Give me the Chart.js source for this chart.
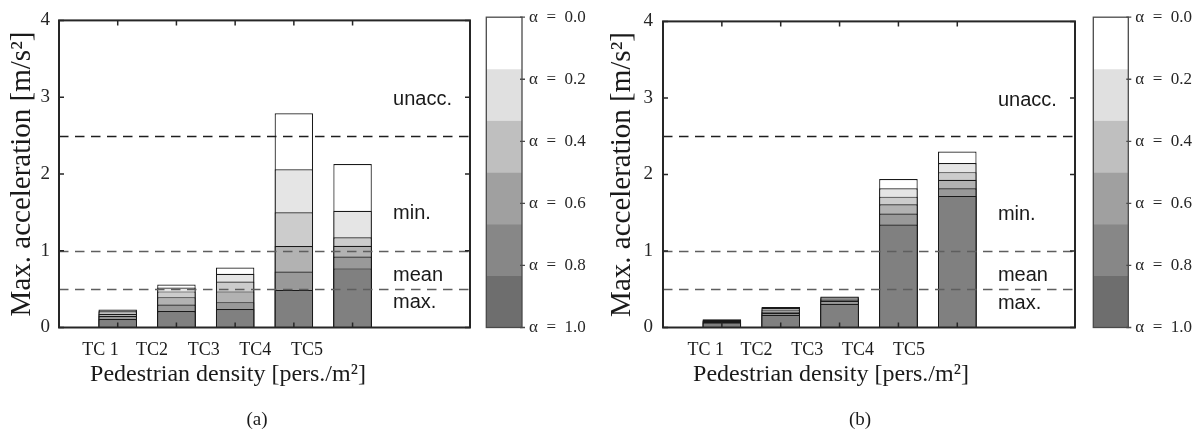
<!DOCTYPE html>
<html lang="en">
<head>
<meta charset="UTF-8">
<title>Max. acceleration per test case</title>
<script src="https://cdn.jsdelivr.net/npm/chart.js"></script>
<style>
  body { margin: 0; background: #fff; }
  #fig { position: relative; width: 1204px; height: 441px; overflow: hidden; background: #fff; }
  #fig canvas { position: absolute; top: 0; }
  .xt, .cap { position: absolute; font-family: "Liberation Serif", "Times New Roman", serif; color: #1a1a1a;
              transform: translateX(-50%); white-space: nowrap; }
  .xt { font-size: 24px; line-height: 28px; }
  .cap { font-size: 19px; line-height: 22px; }
</style>
</head>
<body>
<div id="fig">
  <canvas id="accA" width="480" height="441" style="left:0px"></canvas>
  <canvas id="barA" width="120" height="441" style="left:480px"></canvas>
  <canvas id="accB" width="480" height="441" style="left:600px"></canvas>
  <canvas id="barB" width="124" height="441" style="left:1080px"></canvas>
  <div class="xt" style="left:228px; top:359px">Pedestrian density [pers./m²]</div>
  <div class="cap" style="left:257px; top:408px">(a)</div>
  <div class="xt" style="left:831px; top:359px">Pedestrian density [pers./m²]</div>
  <div class="cap" style="left:860px; top:408px">(b)</div>
</div>

<script>
// test cases
const categories = ['TC 1', 'TC2', 'TC3', 'TC4', 'TC5'];
const alphaNames = ['α = 1.0', 'α = 0.8', 'α = 0.6', 'α = 0.4', 'α = 0.2', 'α = 0.0'];

// (a) max. acceleration [m/s²], top of each alpha level (α = 1.0 at the bottom)
const accA_10 = [0.11, 0.215, 0.24, 0.49, 0.77];
const accA_08 = [0.15, 0.30, 0.33, 0.73, 0.925];
const accA_06 = [0.18, 0.395, 0.47, 1.06, 1.065];
const accA_04 = [0.21, 0.47, 0.60, 1.50, 1.175];
const accA_02 = [0.22, 0.52, 0.70, 2.06, 1.52];
const accA_00 = [0.235, 0.56, 0.78, 2.79, 2.13];

// (b)
const accB_10 = [0.065, 0.165, 0.31, 1.345, 1.72];
const accB_08 = [0.075, 0.19, 0.35, 1.49, 1.82];
const accB_06 = [0.085, 0.21, 0.365, 1.61, 1.93];
const accB_04 = [0.093, 0.235, 0.38, 1.71, 2.03];
const accB_02 = [0.10, 0.255, 0.395, 1.82, 2.15];
const accB_00 = [0.108, 0.267, 0.404, 1.94, 2.30];

// comfort limits and their labels
const limitValues = [2.5, 1.0, 0.5];
const zoneNames = ['unacc.', 'min.', 'mean', 'max.'];
const zoneLevels = [2.97, 1.48, 0.68, 0.32];

// colorbar
const alphaTicks = [0, 0.2, 0.4, 0.6, 0.8, 1.0];
const cbarEdges = [0, 0.167, 0.333, 0.5, 0.667, 0.833, 1];

// styles
const barFills = ['#808080', '#999999', '#b2b2b2', '#cccccc', '#e5e5e5', '#ffffff'];
const cbarFills = ['#ffffff', '#e0e0e0', '#bfbfbf', '#a0a0a0', '#878787', '#6e6e6e'];
const limitColors = ['#1e1e1e', '#5e5e5e', '#5e5e5e'];
const serif = '"Liberation Serif", "Times New Roman", serif';
const ink = '#262626';

// frame, inner ticks, dashed limits and zone labels
const boxPlugin = {
  id: 'box',
  afterDatasetsDraw(chart, args, opts) {
    const {ctx, chartArea: a, scales: {x, y}} = chart;
    ctx.save();
    ctx.lineWidth = 1.3;
    ctx.setLineDash([9.5, 6.5]);
    limitValues.forEach((v, i) => {
      const py = Math.round(y.getPixelForValue(v)) + 0.5;
      ctx.strokeStyle = limitColors[i];
      ctx.beginPath(); ctx.moveTo(a.left, py); ctx.lineTo(a.right, py); ctx.stroke();
    });
    ctx.setLineDash([]);
    ctx.fillStyle = '#1a1a1a';
    ctx.font = '20px "Liberation Sans", Arial, sans-serif';
    ctx.textAlign = 'left';
    ctx.textBaseline = 'middle';
    zoneNames.forEach((t, i) => ctx.fillText(t, x.getPixelForValue(opts.zoneX), y.getPixelForValue(zoneLevels[i])));

    ctx.strokeStyle = ink;
    ctx.lineWidth = 1.5;
    ctx.beginPath();
    y.ticks.forEach(t => {
      const py = y.getPixelForValue(t.value);
      ctx.moveTo(a.left, py); ctx.lineTo(a.left + 5, py);
      ctx.moveTo(a.right, py); ctx.lineTo(a.right - 5, py);
    });
    categories.forEach((c, i) => {
      const px = x.getPixelForValue(i + 1);
      ctx.moveTo(px, a.top); ctx.lineTo(px, a.top + 5);
      ctx.moveTo(px, a.bottom); ctx.lineTo(px, a.bottom - 5);
    });
    ctx.stroke();
    ctx.lineWidth = 2;
    ctx.strokeRect(a.left, a.top, a.width, a.height);
    ctx.restore();
  }
};

const cbarPlugin = {
  id: 'cbar',
  afterDatasetsDraw(chart) {
    const {ctx, chartArea: a, scales: {y}} = chart;
    ctx.save();
    ctx.strokeStyle = '#4a4a4a';
    ctx.lineWidth = 1.3;
    ctx.strokeRect(a.left, a.top, a.width, a.height);
    ctx.beginPath();
    alphaTicks.forEach(v => {
      const py = y.getPixelForValue(v);
      ctx.moveTo(a.right - 2, py); ctx.lineTo(a.right + 3, py);
    });
    ctx.stroke();
    ctx.restore();
  }
};

function makePanel(id, cbId, series, p) {
  new Chart(document.getElementById(id), {
    type: 'bar',
    data: {
      datasets: series.map((vals, k) => ({
        label: alphaNames[k],
        xAxisID: 'x',
        data: vals.map((v, i) => ({x: i + 1, y: v})),
        backgroundColor: barFills[k],
        borderColor: '#1a1a1a',
        borderWidth: 1.2,
        grouped: false,
        categoryPercentage: 1,
        barPercentage: 0.655
      }))
    },
    options: {
      responsive: false,
      animation: false,
      layout: {padding: {left: 0, top: 16, right: p.padRight, bottom: 0}},
      plugins: {legend: {display: false}, tooltip: {enabled: false}, box: {zoneX: 5.69}},
      scales: {
        x: {type: 'linear', min: 0, max: 7, offset: false, display: false, ticks: {stepSize: 1}},
        xl: {
          type: 'linear', position: 'bottom', min: p.lblMin, max: p.lblMax, offset: false,
          grid: {display: false, drawTicks: false, offset: false}, border: {display: false},
          afterBuildTicks: s => { s.ticks = categories.map((c, i) => ({value: i + 1})); },
          ticks: {autoSkip: false, maxRotation: 0, padding: 12, color: '#1a1a1a',
                  font: {family: serif, size: 18}, callback: (v, i) => categories[i]},
          afterFit: s => { s.height = 113.5; }
        },
        y: {
          min: 0, max: 4,
          grid: {display: false, drawTicks: false}, border: {display: false},
          ticks: {stepSize: 1, padding: p.tickPad, color: ink, font: {family: serif, size: 19}},
          title: {display: true, text: 'Max. acceleration [m/s²]', color: '#1a1a1a',
                  font: {family: serif, size: 29}, padding: {top: 5, bottom: 0}},
          afterFit: s => { s.width = p.axisW; }
        }
      }
    },
    plugins: [boxPlugin]
  });

  new Chart(document.getElementById(cbId), {
    type: 'bar',
    data: {
      labels: ['α'],
      datasets: cbarFills.map((c, k) => ({
        data: [[cbarEdges[k], cbarEdges[k + 1]]],
        backgroundColor: c,
        borderWidth: 0,
        grouped: false,
        categoryPercentage: 1,
        barPercentage: 1
      }))
    },
    options: {
      responsive: false,
      animation: false,
      layout: {padding: {left: p.cbLeft, top: 16, right: 0, bottom: 113.5}},
      plugins: {legend: {display: false}, tooltip: {enabled: false}},
      scales: {
        x: {display: false},
        y: {
          position: 'right', min: 0, max: 1, reverse: true,
          grid: {display: false, drawTicks: false}, border: {display: false},
          afterBuildTicks: s => { s.ticks = alphaTicks.map(v => ({value: v})); },
          ticks: {padding: 7, color: ink, font: {family: serif, size: 17},
                  callback: v => 'α\u2002=\u2002' + v.toFixed(1)},
          afterFit: s => { s.width = p.cbAxisW; }
        }
      }
    },
    plugins: [cbarPlugin]
  });
}

makePanel('accA', 'barA', [accA_10, accA_08, accA_06, accA_04, accA_02, accA_00],
  {axisW: 59, padRight: 10, tickPad: 9, lblMin: 0.196, lblMax: 8.161, cbLeft: 6.3, cbAxisW: 78});
makePanel('accB', 'barB', [accB_10, accB_08, accB_06, accB_04, accB_02, accB_00],
  {axisW: 63, padRight: 5, tickPad: 10, lblMin: 0.159, lblMax: 8.27, cbLeft: 13.3, cbAxisW: 75.7});
</script>
</body>
</html>
